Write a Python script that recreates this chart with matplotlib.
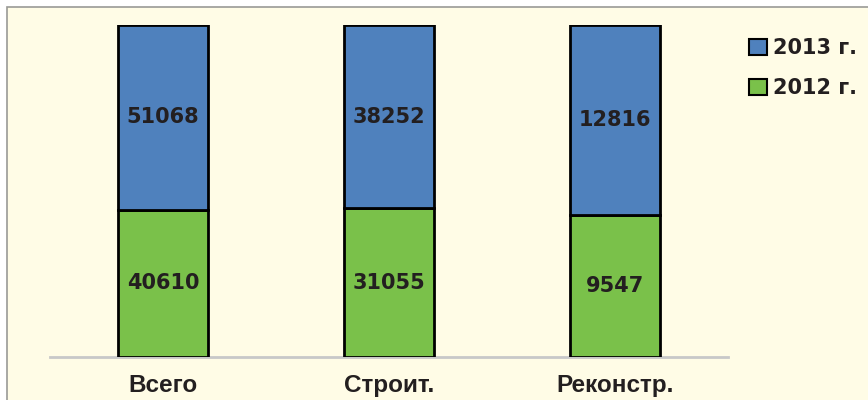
import matplotlib
matplotlib.use("Agg")
import matplotlib.pyplot as plt
from matplotlib.patches import Rectangle, Patch
import numpy as np

categories = ["Всего", "Строит.", "Реконстр."]
values_2012 = [40610, 31055, 9547]
values_2013 = [51068, 38252, 12816]
series_names = ["2013 г.", "2012 г."]

c_blue = "#4F81BD"
c_green = "#7AC14A"
bg = "#FFFCE6"

fig = plt.figure(figsize=(8.68, 4.0), dpi=100)
fig.patch.set_facecolor("white")
fig.patches.append(Rectangle((7/868, -0.05), 1.1, 1 - 7/400 + 0.05,
                             transform=fig.transFigure, facecolor=bg,
                             edgecolor="#9A9A96", linewidth=1.2, zorder=-5))

ax = fig.add_axes([50/868, 1 - 357/400, 678/868, 332/400], zorder=2)
ax.set_facecolor("none")

v12 = np.array(values_2012, float)
v13 = np.array(values_2013, float)
tot = v12 + v13
f12 = v12 / tot
f13 = v13 / tot
x = np.arange(len(categories))
w = 0.4

ax.bar(x, f12, w, color=c_green, edgecolor="black", linewidth=2.0, zorder=3)
ax.bar(x, f13, w, bottom=f12, color=c_blue, edgecolor="black", linewidth=2.0, zorder=3)

for i in range(len(x)):
    ax.text(x[i], f12[i] / 2, f"{values_2012[i]}", ha="center", va="center",
            fontsize=15, fontweight="bold", color="#231F20", family="DejaVu Sans", zorder=4)
    ax.text(x[i], f12[i] + f13[i] / 2, f"{values_2013[i]}", ha="center", va="center",
            fontsize=15, fontweight="bold", color="#231F20", family="DejaVu Sans", zorder=4)

ax.set_xlim(-0.5, 2.5)
ax.set_ylim(0, 1)
ax.set_yticks([])
ax.set_xticks(x)
ax.set_xticklabels(categories, fontsize=17.5, fontweight="bold", color="#231F20",
                   family=["Liberation Sans Narrow", "Liberation Sans", "DejaVu Sans"])
ax.tick_params(axis="x", length=0, pad=12)
for s in ["top", "right", "left"]:
    ax.spines[s].set_visible(False)
ax.spines["bottom"].set_color("#C8C8C8")
ax.spines["bottom"].set_linewidth(2)

handles = [Patch(facecolor=c_blue, edgecolor="black", linewidth=1.5),
           Patch(facecolor=c_green, edgecolor="black", linewidth=1.5)]
leg = fig.legend(handles, series_names, loc="upper left",
                 bbox_to_anchor=(741/868, 1 - 30/400), frameon=False,
                 handlelength=0.85, handleheight=0.85, handletextpad=0.3,
                 labelspacing=0.95, borderaxespad=0,
                 prop={"size": 15, "weight": "bold", "family": "DejaVu Sans"})
for t in leg.get_texts():
    t.set_color("#231F20")

fig.savefig("out.png", dpi=100, facecolor=fig.get_facecolor())
